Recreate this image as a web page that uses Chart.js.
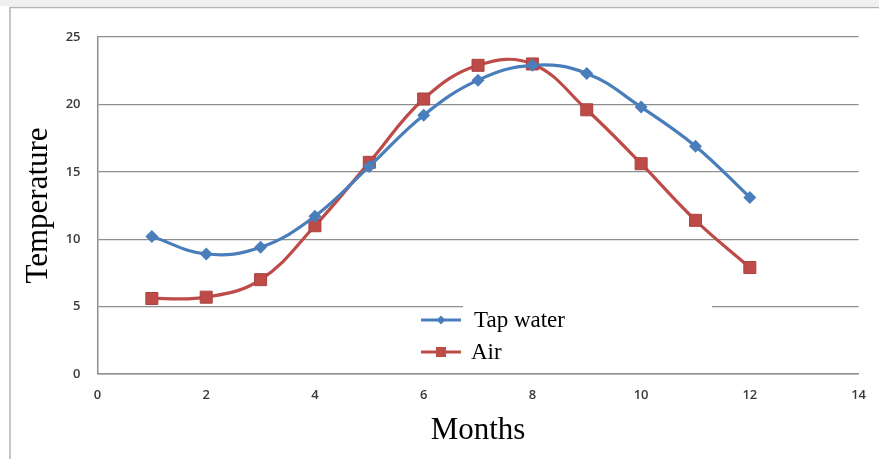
<!DOCTYPE html>
<html>
<head>
<meta charset="utf-8">
<script src="https://cdn.jsdelivr.net/npm/chart.js@4.4.1/dist/chart.umd.min.js"></script>
<style>
  html, body { margin: 0; padding: 0; background: #ffffff; }
  #wrap { position: relative; width: 879px; height: 460px; }
  canvas { display: block; }
</style>
</head>
<body>
<div id="wrap"><canvas id="chart" width="879" height="460"></canvas></div>
<script>
// Monthly temperatures
const months = [1, 2, 3, 4, 5, 6, 7, 8, 9, 10, 11, 12];
const tapWater = [10.2, 8.9, 9.4, 11.7, 15.4, 19.2, 21.8, 22.9, 22.3, 19.8, 16.9, 13.1];
const air = [5.6, 5.7, 7.0, 11.0, 15.7, 20.4, 22.9, 23.0, 19.6, 15.6, 11.4, 7.9];
const seriesNames = ['Tap water', 'Air'];
const xTicks = [0, 2, 4, 6, 8, 10, 12, 14];
const yTicks = [0, 5, 10, 15, 20, 25];

const BLUE = '#4a7ebb';
const RED = '#be4b48';
const GRID = '#8e8e8e';
const SERIF = '"Liberation Serif", "Times New Roman", serif';
const SANS = '"Open Sans", "Liberation Sans", Arial, sans-serif';

const toPoints = ys => months.map((m, i) => ({ x: m, y: ys[i] }));

// Outer frame and white background
const framePlugin = {
  id: 'frame',
  beforeDraw(chart) {
    const ctx = chart.ctx;
    ctx.save();
    ctx.fillStyle = '#ffffff';
    ctx.fillRect(0, 0, chart.width, chart.height);
    ctx.fillStyle = '#f0f0f0';
    ctx.fillRect(0, 0, chart.width, 6);
    ctx.strokeStyle = '#b4b4b4';
    ctx.lineWidth = 1.5;
    ctx.beginPath();
    ctx.moveTo(10, 459);
    ctx.lineTo(10, 7.5);
    ctx.lineTo(chart.width, 7.5);
    ctx.stroke();
    ctx.restore();
  }
};

// Legend drawn inside the plot area
const innerLegend = {
  id: 'innerLegend',
  afterDatasetsDraw(chart) {
    const ctx = chart.ctx;
    const ys = chart.scales.y;
    ctx.save();
    ctx.fillStyle = '#ffffff';
    const boxTop = ys.getPixelForValue(5) - 7;
    ctx.fillRect(463, boxTop, 249, ys.getPixelForValue(0) - boxTop - 1.5);
    const rows = [
      { name: seriesNames[0], color: BLUE, shape: 'diamond', y: 320 },
      { name: seriesNames[1], color: RED, shape: 'square', y: 352 }
    ];
    rows.forEach(r => {
      ctx.strokeStyle = r.color;
      ctx.lineWidth = 3;
      ctx.beginPath();
      ctx.moveTo(421, r.y);
      ctx.lineTo(461, r.y);
      ctx.stroke();
      ctx.fillStyle = r.color;
      ctx.beginPath();
      if (r.shape === 'diamond') {
        ctx.moveTo(441, r.y - 4.5);
        ctx.lineTo(445.5, r.y);
        ctx.lineTo(441, r.y + 4.5);
        ctx.lineTo(436.5, r.y);
        ctx.closePath();
      } else {
        ctx.rect(436, r.y - 5, 10, 10);
      }
      ctx.fill();
      ctx.fillStyle = '#000000';
      ctx.font = '23px ' + SERIF;
      ctx.textBaseline = 'middle';
      ctx.textAlign = 'left';
      ctx.fillText(r.name, r.name === 'Air' ? 471 : 474, r.y + 1);
    });
    ctx.restore();
  }
};

new Chart(document.getElementById('chart'), {
  type: 'line',
  data: {
    datasets: [
      {
        label: seriesNames[0],
        data: toPoints(tapWater),
        borderColor: BLUE,
        backgroundColor: BLUE,
        borderWidth: 3.2,
        tension: 0.4,
        pointStyle: 'rectRot',
        pointRadius: 6.5,
        pointBorderWidth: 0,
        fill: false
      },
      {
        label: seriesNames[1],
        data: toPoints(air),
        borderColor: RED,
        backgroundColor: RED,
        borderWidth: 3.2,
        tension: 0.4,
        pointStyle: 'rect',
        pointRadius: 8.5,
        pointBorderWidth: 1,
        pointBorderColor: '#a84340',
        fill: false
      }
    ]
  },
  options: {
    responsive: false,
    animation: false,
    devicePixelRatio: 1,
    layout: { padding: { left: 0, top: 37, right: 12, bottom: 0 } },
    plugins: {
      legend: { display: false },
      tooltip: { enabled: false }
    },
    scales: {
      x: {
        type: 'linear',
        min: 0,
        max: 14,
        afterBuildTicks: s => { s.ticks = xTicks.map(v => ({ value: v })); },
        afterFit: s => { s.height = 86; },
        grid: { display: false, drawTicks: false },
        border: { display: true, color: GRID, width: 1.5 },
        ticks: {
          padding: 13,
          color: '#3a3a3a',
          font: { family: SANS, size: 13, weight: '600' }
        },
        title: {
          display: true,
          text: 'Months',
          color: '#000000',
          font: { family: SERIF, size: 31 },
          padding: { top: 0, bottom: 11 }
        }
      },
      y: {
        min: 0,
        max: 25,
        afterBuildTicks: s => { s.ticks = yTicks.map(v => ({ value: v })); },
        afterFit: s => { s.width = 97.5; },
        grid: { color: GRID, lineWidth: 1.2, drawTicks: false },
        border: { display: true, color: GRID, width: 1.5 },
        ticks: {
          padding: 17,
          color: '#3a3a3a',
          font: { family: SANS, size: 13, weight: '600' }
        },
        title: {
          display: true,
          text: 'Temperature',
          color: '#000000',
          font: { family: SERIF, size: 31 },
          padding: { top: 20, bottom: 0 }
        }
      }
    }
  },
  plugins: [framePlugin, innerLegend]
});
</script>
</body>
</html>
